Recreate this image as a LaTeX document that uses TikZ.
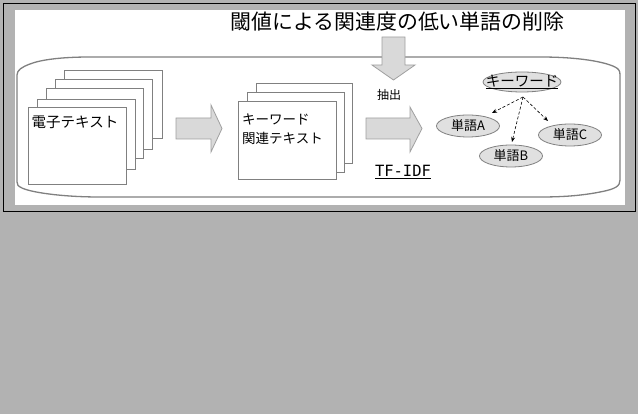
\documentclass[tikz,border=0pt]{standalone}
\usepackage{fontspec}
\setmainfont{Noto Sans CJK JP}
\newfontfamily\monof{DejaVu Sans Mono}
\usetikzlibrary{arrows.meta,shapes.geometric}
\definecolor{bg}{RGB}{178,178,178}
\definecolor{arrfill}{RGB}{217,217,217}
\definecolor{arrline}{RGB}{160,160,160}
\definecolor{pageline}{RGB}{128,128,128}
\definecolor{ellfill}{RGB}{224,224,224}
\begin{document}
\begin{tikzpicture}[x=1pt,y=-1pt,
  page/.style={draw=pageline,fill=white,line width=0.9pt},
  bigarrow/.style={draw=arrline,fill=arrfill,line width=0.8pt},
  word/.style={ellipse,draw=pageline,fill=ellfill,line width=0.8pt,inner sep=0pt,minimum width=63pt,minimum height=22pt,font=\fontsize{13}{13}\selectfont},
  link/.style={-{Stealth[length=5pt,width=4pt]},line width=0.6pt,dash pattern=on 3pt off 2pt},
  lbl/.style={inner sep=0pt,anchor=center}]
\useasboundingbox (0,0) rectangle (638,414);
\fill[bg] (0,0) rectangle (638,414);
\draw[line width=1pt] (3.5,4) rectangle (635.5,211.5);
\fill[white] (15,10) rectangle (625,205);
% container
\draw[pageline, line width=1.3pt] (17,182) -- (17,75) .. controls (17,70) and (22,67) .. (30,64) .. controls (40,60) and (60,57) .. (90,57) -- (540,57) .. controls (580,57) and (605,62) .. (615,67) .. controls (619,69) and (620,71) .. (620,75) -- (620,180) .. controls (620,186) and (616,189) .. (600,192) .. controls (580,196) and (560,197) .. (540,197) -- (100,197) .. controls (60,197) and (30,192) .. (22,188) .. controls (18,186) and (17,185) .. (17,182) -- cycle;
% title
\node[lbl,font=\fontsize{20.9}{20.9}\selectfont] (title) at (397.5,22) {閾値による関連度の低い単語の削除};
% left stack
\draw[page] (64,70) rectangle (162,138);
\draw[page] (55,79) rectangle (152,149);
\draw[page] (46,88) rectangle (143,158);
\draw[page] (37,99) rectangle (135,169);
\draw[page] (28,107) rectangle (126,184);
\node[lbl,font=\fontsize{14.5}{14.5}\selectfont] (etext) at (75,122) {電子テキスト};
% middle stack
\draw[page] (256,83) rectangle (352,163);
\draw[page] (247,92) rectangle (344,172);
\draw[page] (238,101) rectangle (336,179);
\node[inner sep=0pt,anchor=west,align=left,font=\fontsize{13.5}{19}\selectfont] (ktext) at (242,129.5) {キーワード\\関連テキスト};
% arrows
\draw[bigarrow] (176,118) -- (211,118) -- (211,105) -- (222,128.5) -- (211,152) -- (211,139) -- (176,139) -- cycle;
\draw[bigarrow] (366,118) -- (410,118) -- (410,107) -- (422,128.5) -- (410,152) -- (410,139) -- (366,139) -- cycle;
\draw[bigarrow] (382,37) -- (405,37) -- (405,65) -- (415,65) -- (393.5,80) -- (372,65) -- (382,65) -- cycle;
\node[lbl,font=\fontsize{12}{12}\selectfont] (ext) at (389,95) {抽出};
\node[lbl,font=\monof\fontsize{15.5}{15.5}\selectfont] (tfidf) at (403,172) {\underline{TF-IDF}};
% keyword tree
\node[word,minimum width=78pt,minimum height=20pt] (kw) at (522,82) {};
\node[lbl,font=\fontsize{14.5}{14.5}\selectfont] (kwt) at (kw.center) {\underline{キーワード}};
\node[word] (wa) at (468,126) {単語A};
\node[word] (wb) at (511,156) {単語B};
\node[word] (wc) at (570,135) {単語C};
\coordinate (src) at (523,97);
\coordinate (ta) at (492,113);
\coordinate (tb) at (512,142);
\coordinate (tc) at (548,121);
\draw[link] (src) -- (ta);
\draw[link] (src) -- (tb);
\draw[link] (src) -- (tc);
\end{tikzpicture}
\end{document}
